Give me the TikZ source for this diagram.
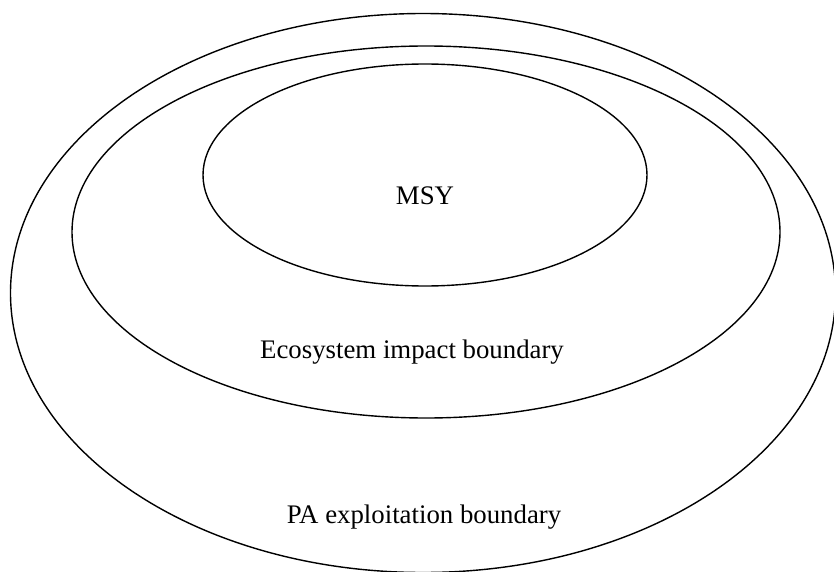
\documentclass[tikz,border=0pt]{standalone}
\usepackage{fontspec}
\setmainfont{Liberation Serif}
\usetikzlibrary{shapes.geometric}

\begin{document}
\begin{tikzpicture}[
  x=1pt, y=-1pt,
  ring/.style={draw, ellipse, line width=1.4pt, inner sep=0pt},
  lbl/.style={font=\fontsize{26.8}{32}\selectfont},
]
\useasboundingbox (0,0) rectangle (834,572);
\node[ring, minimum width=825pt, minimum height=559pt] (pa) at (423,293) {};
\node[ring, minimum width=708pt, minimum height=372pt] (eco) at (426,232) {};
\node[ring, minimum width=444pt, minimum height=222pt] (msy) at (425,175) {};
\node[lbl] (msyl) at (425,196) {MSY};
\node[lbl] (ecol) at (412,352) {Ecosystem impact boundary};
\node[lbl] (pal) at (424,517) {PA exploitation boundary};
\end{tikzpicture}
\end{document}
